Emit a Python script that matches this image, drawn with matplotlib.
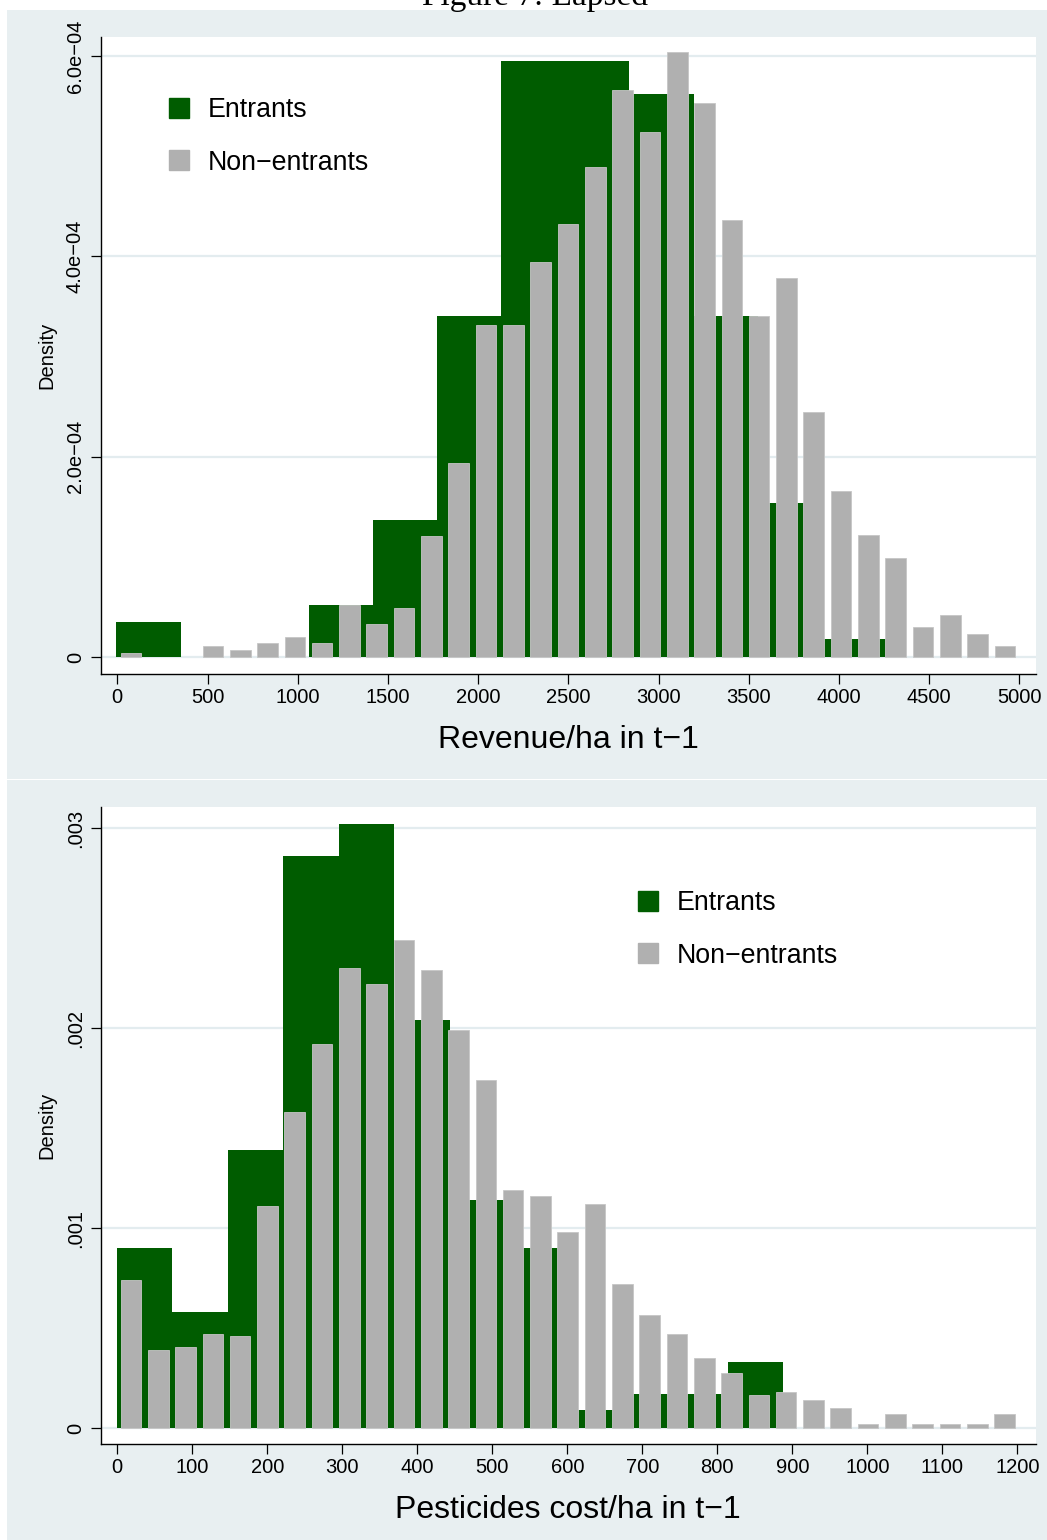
import numpy as np
import matplotlib
matplotlib.use("Agg")
from matplotlib import pyplot as plt
from matplotlib.patches import Rectangle
from matplotlib.lines import Line2D

plt.rcParams['font.family'] = ['Liberation Sans', 'DejaVu Sans']

# revenue per ha, densities x 1e-4
rev_entr_lo = -5.0
rev_entr_w = 355.5
rev_entr_dens = [0.35, 0.0, 0.0, 0.52, 1.37, 3.40, 5.95, 5.95, 5.62, 3.40, 1.54, 0.18]

rev_non_lo = 0.0
rev_non_w = 151.4
rev_non_dens = [0.04, 0.0, 0.0, 0.107, 0.073, 0.14, 0.20, 0.14, 0.52, 0.33, 0.49,
                1.21, 1.94, 3.31, 3.31, 3.94, 4.32, 4.89, 5.66, 5.24, 6.04, 5.53,
                4.36, 3.40, 3.78, 2.45, 1.66, 1.22, 0.99, 0.30, 0.42, 0.23, 0.107]

rev_xticks = list(range(0, 5001, 500))
rev_yticks = [0, 2e-4, 4e-4, 6e-4]
rev_ylabels = ['0', '2.0e\u221204', '4.0e\u221204', '6.0e\u221204']

# pesticides cost per ha, densities x 1e-3
pest_entr_lo = -1.0
pest_entr_w = 74.1
pest_entr_dens = [0.90, 0.58, 1.39, 2.86, 3.02, 2.04, 1.14, 0.90, 0.09, 0.17, 0.17, 0.33]

pest_non_lo = 0.0
pest_non_w = 36.4
pest_non_dens = [0.738, 0.392, 0.405, 0.472, 0.458, 1.11, 1.58, 1.92, 2.30, 2.22, 2.44,
                 2.29, 1.99, 1.74, 1.19, 1.16, 0.978, 1.12, 0.72, 0.565, 0.472, 0.352,
                 0.273, 0.165, 0.18, 0.14, 0.098, 0.018, 0.072, 0.018, 0.018, 0.018, 0.072]

pest_xticks = list(range(0, 1201, 100))
pest_yticks = [0, 0.001, 0.002, 0.003]
pest_ylabels = ['0', '.001', '.002', '.003']

labels = ['Entrants', 'Non\u2212entrants']

GREEN = '#005c00'
GRAY = '#b0b0b0'
BG = '#e8eff1'
GRID = '#e3ecef'

W, H = 1047, 1540


def fx(px):
    return px / W


def fy(py):
    return 1 - py / H


fig = plt.figure(figsize=(W / 100, H / 100), dpi=100)
fig.patch.set_facecolor('white')

# light graph regions behind each panel
for top, bot in [(10, 779), (780, 1540)]:
    fig.add_artist(Rectangle((fx(7), fy(bot)), fx(W) - fx(7), (bot - top) / H,
                             transform=fig.transFigure, facecolor=BG,
                             edgecolor='none', zorder=-5))

fig.text(fx(535), fy(5.0), 'Figure 7: Lapsed', family='Liberation Serif',
         fontsize=24, ha='center', va='baseline')


def hist_panel(ax, e_lo, e_w, e_d, n_lo, n_w, n_d, scale):
    e_d = np.array(e_d) * scale
    n_d = np.array(n_d) * scale
    e_left = e_lo + e_w * np.arange(len(e_d))
    keep = e_d > 0
    ax.bar(e_left[keep], e_d[keep], width=e_w, align='edge', color=GREEN,
           linewidth=0, zorder=2)
    n_mid = n_lo + n_w * (np.arange(len(n_d)) + 0.5)
    keep = n_d > 0
    ax.bar(n_mid[keep], n_d[keep], width=0.755 * n_w, color=GRAY,
           edgecolor='#c6c6c6', linewidth=0.6, zorder=3)


def style_axes(ax, xticks, yticks, ylabels, xlabel, xlab_y):
    ax.set_facecolor('white')
    for s in ['top', 'right']:
        ax.spines[s].set_visible(False)
    for s in ['left', 'bottom']:
        ax.spines[s].set_linewidth(1.0)
    ax.set_xticks(xticks)
    ax.set_xticklabels([str(t) for t in xticks])
    ax.set_yticks(yticks)
    ax.set_yticklabels(ylabels, rotation=90, va='center')
    ax.tick_params(direction='out', length=7.2, width=0.9, labelsize=14.5,
                   color='black')
    ax.tick_params(axis='x', pad=3)
    ax.tick_params(axis='y', pad=4)
    ax.yaxis.grid(True, color=GRID, linewidth=1.6)
    ax.set_axisbelow(True)
    ax.set_ylabel('Density', fontsize=14.5)
    ax.yaxis.set_label_coords(-0.047, 0.5)
    ax.set_xlabel(xlabel, fontsize=23, va='center')
    ax.xaxis.set_label_coords(0.5, xlab_y)


def add_legend(ax, x, y):
    handles = [Line2D([], [], marker='s', ls='', markersize=14.4, color=GREEN),
               Line2D([], [], marker='s', ls='', markersize=14.4, color=GRAY)]
    ax.legend(handles, labels, loc='upper left', bbox_to_anchor=(x, y),
              frameon=False, fontsize=19.3, handlelength=0.78, handletextpad=0.66,
              labelspacing=1.0, borderpad=0, borderaxespad=0)


# revenue panel
ax1 = fig.add_axes([fx(100.5), fy(673.5), fx(1035.7) - fx(100.5), (673.5 - 36.7) / H])
hist_panel(ax1, rev_entr_lo, rev_entr_w, rev_entr_dens,
           rev_non_lo, rev_non_w, rev_non_dens, 1e-4)
ax1.set_xlim(-(117.3 - 100.5) / 0.1804, (1035.7 - 117.3) / 0.1804)
ax1.set_ylim(-(673.5 - 657) / 100.17 * 1e-4, (657 - 36.7) / 100.17 * 1e-4)
style_axes(ax1, rev_xticks, rev_yticks, rev_ylabels, 'Revenue/ha in t\u22121',
           -(740 - 673.5) / 636.8)
add_legend(ax1, (169 - 100.5) / 935.2, 1 - (97 - 36.7) / 636.8)

# pesticides panel
ax2 = fig.add_axes([fx(100.5), fy(1444), fx(1035.7) - fx(100.5), (1444 - 806.7) / H])
hist_panel(ax2, pest_entr_lo, pest_entr_w, pest_entr_dens,
           pest_non_lo, pest_non_w, pest_non_dens, 1e-3)
ax2.set_xlim(-(117.3 - 100.5) / 0.75, (1035.7 - 117.3) / 0.75)
ax2.set_ylim(-(1444 - 1428) / 200 * 1e-3, (1428 - 806.7) / 200 * 1e-3)
style_axes(ax2, pest_xticks, pest_yticks, pest_ylabels, 'Pesticides cost/ha in t\u22121',
           -(1510 - 1444) / 637.3)
add_legend(ax2, (638 - 100.5) / 935.2, 1 - (890 - 806.7) / 637.3)

fig.savefig('out.png', dpi=100)
